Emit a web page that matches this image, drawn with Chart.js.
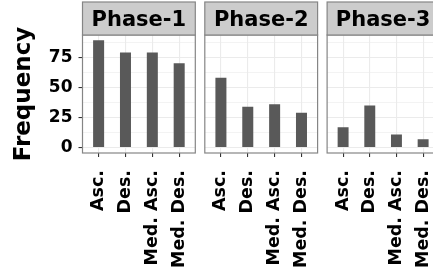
<!DOCTYPE html>
<html><head><meta charset="utf-8">
<script src="https://cdn.jsdelivr.net/npm/chart.js@4"></script>
<style>
html,body{margin:0;padding:0;background:#fff;overflow:hidden;width:433px;height:272px}
#wrap{position:relative;width:433px;height:272px;overflow:hidden;background:#fff}
canvas{position:absolute;left:0;top:0}
</style></head><body>
<div id="wrap">
<canvas id="p1" width="460" height="272"></canvas>
<canvas id="p2" width="460" height="272"></canvas>
<canvas id="p3" width="460" height="272"></canvas>
</div>
<script>
// ---- data ----
const categories = ['Asc.', 'Des.', 'Med. Asc.', 'Med. Des.'];
const phases = ['Phase-1', 'Phase-2', 'Phase-3'];
const phase1Values = [89, 79, 79, 70];
const phase2Values = [58, 34, 36, 29];
const phase3Values = [17, 35, 11, 7];
const yTickLabels = [0, 25, 50, 75];
const yAxisTitle = 'Frequency';

// ---- layout / style ----
const FONT = '"DejaVu Sans", "Liberation Sans", sans-serif';
const CANVAS_W = 460;
const PANEL_W = 112.8;
const PANEL_LEFTS = [82.5, 204.8, 327.1];
const PANEL_TOP = 35;
const PANEL_BOTTOM = 153;
const STRIP_TOP = 2;
const Y_AXIS_W = 82.5;

const allValues = [phase1Values, phase2Values, phase3Values];
const dataMax = Math.max(...allValues.flat());
const yMin = -0.05 * dataMax;
const yMax = 1.05 * dataMax;
const step = yTickLabels[1] - yTickLabels[0];
const yAllTicks = [];
yTickLabels.forEach(v => { yAllTicks.push(v); if (v + step / 2 < yMax) yAllTicks.push(v + step / 2); });
const isMajor = v => yTickLabels.includes(v);

const facetPlugin = {
  id: 'facet',
  afterDraw(chart, args, opts) {
    const {ctx, chartArea: a} = chart;
    ctx.save();
    ctx.strokeStyle = '#858585';
    ctx.lineWidth = 1.2;
    ctx.strokeRect(a.left, a.top, a.right - a.left, a.bottom - a.top);
    ctx.fillStyle = '#CCCCCC';
    ctx.fillRect(a.left, STRIP_TOP, a.right - a.left, a.top - STRIP_TOP);
    ctx.strokeRect(a.left, STRIP_TOP, a.right - a.left, a.top - STRIP_TOP);
    ctx.fillStyle = '#000';
    ctx.font = 'bold 21px ' + FONT;
    ctx.textAlign = 'center';
    ctx.textBaseline = 'alphabetic';
    ctx.fillText(opts.label, (a.left + a.right) / 2, 25.5);
    ctx.restore();
  }
};

function makePanel(id, idx, values) {
  const first = idx === 0;
  const left = PANEL_LEFTS[idx];
  return new Chart(document.getElementById(id), {
    type: 'bar',
    data: {
      datasets: [{
        data: values.map((v, i) => ({x: i, y: v})),
        backgroundColor: '#595959',
        borderWidth: 0,
        barPercentage: 0.41,
        categoryPercentage: 1
      }]
    },
    plugins: [facetPlugin],
    options: {
      responsive: false,
      animation: false,
      events: [],
      layout: {padding: {left: first ? left - Y_AXIS_W : left, right: CANVAS_W - left - PANEL_W, top: PANEL_TOP, bottom: 0}},
      plugins: {
        legend: {display: false},
        tooltip: {enabled: false},
        facet: {label: phases[idx]}
      },
      scales: {
        x: {
          type: 'linear',
          offset: false,
          min: -0.6,
          max: categories.length - 1 + 0.6,
          afterBuildTicks: s => { s.ticks = categories.map((c, i) => ({value: i})); },
          afterFit: s => { s.height = 272 - PANEL_BOTTOM; },
          border: {display: false},
          grid: {offset: false, color: '#EBEBEB', lineWidth: 1.1, drawTicks: true, tickLength: 4, tickColor: '#333333', tickWidth: 1.1},
          ticks: {
            autoSkip: false,
            minRotation: 90, maxRotation: 90,
            padding: 13,
            color: '#000',
            font: {family: FONT, size: 17.5, weight: 'bold'},
            callback: v => categories[v] ?? ''
          }
        },
        y: {
          min: yMin,
          max: yMax,
          afterBuildTicks: s => { s.ticks = yAllTicks.map(v => ({value: v})); },
          afterFit: s => { s.width = first ? Y_AXIS_W : 0; },
          border: {display: false},
          grid: {
            color: '#EBEBEB',
            lineWidth: c => (c.tick && isMajor(c.tick.value)) ? 1.1 : 0.6,
            drawTicks: first,
            tickLength: 4,
            tickColor: c => (c.tick && isMajor(c.tick.value)) ? '#333333' : 'rgba(0,0,0,0)',
            tickWidth: 1.1
          },
          title: {
            display: first,
            text: yAxisTitle,
            color: '#000',
            font: {family: FONT, size: 23, weight: 'bold'},
            padding: {top: 10, bottom: 0}
          },
          ticks: {
            display: first,
            autoSkip: false,
            padding: 6,
            color: '#000',
            font: {family: FONT, size: 17, weight: 'bold'},
            callback: v => isMajor(v) ? String(v) : ''
          }
        }
      }
    }
  });
}

makePanel('p1', 0, phase1Values);
makePanel('p2', 1, phase2Values);
makePanel('p3', 2, phase3Values);
</script>
</body></html>
